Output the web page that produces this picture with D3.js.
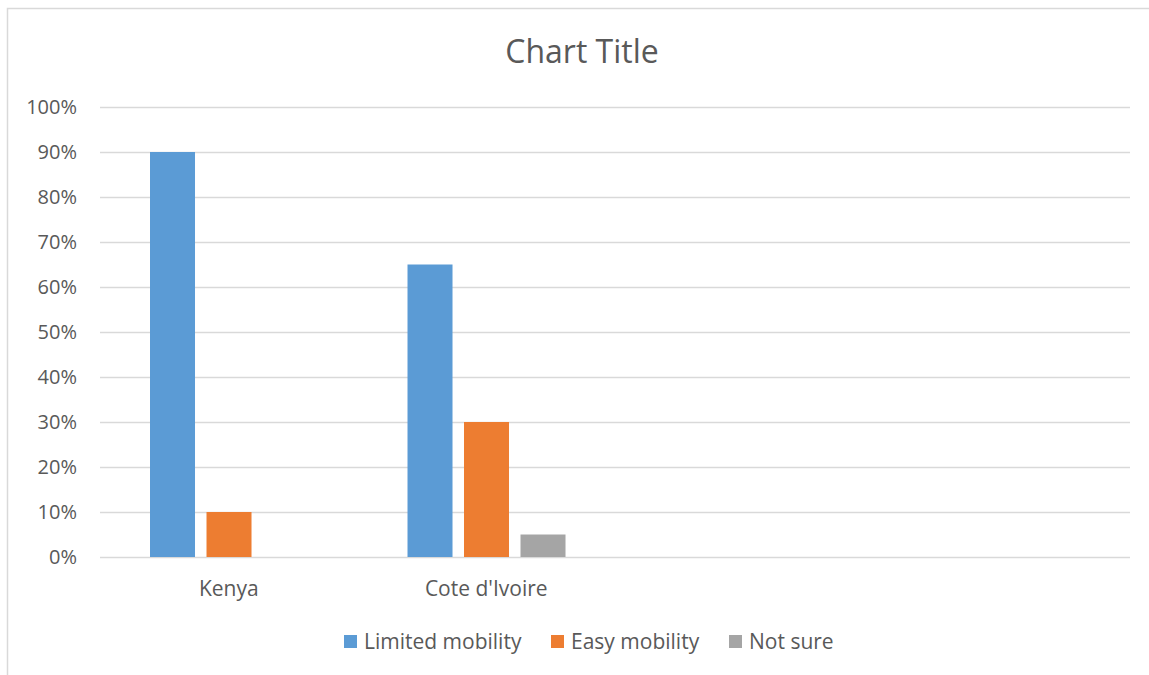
<!DOCTYPE html>
<html><head><meta charset="utf-8">
<script src="https://cdn.jsdelivr.net/npm/d3@7"></script>
<style>
body{margin:0;background:#fff;}
text{font-family:"Open Sans","Noto Sans",sans-serif;fill:#595959;}
</style></head>
<body><svg id="c" width="1149" height="675"></svg>
<script>
const categories = ["Kenya", "Cote d'Ivoire", "", ""];
const seriesNames = ["Limited mobility", "Easy mobility", "Not sure"];
const limitedMobility = [90, 65, null, null];
const easyMobility = [10, 30, null, null];
const notSure = [0, 5, null, null];
const yTicks = [0, 10, 20, 30, 40, 50, 60, 70, 80, 90, 100];
const colors = ["#5b9bd5", "#ed7d31", "#a5a5a5"];

const seriesValues = [limitedMobility, easyMobility, notSure];
const svg = d3.select("#c");

// chart border
svg.append("rect").attr("x", 7.5).attr("y", 8.5).attr("width", 1160).attr("height", 680)
  .attr("fill", "none").attr("stroke", "#d9d9d9").attr("stroke-width", 1.5);

const pLeft = 100, pRight = 1130, pTop = 107, pBottom = 557;
const x0 = d3.scaleBand().domain(d3.range(categories.length)).range([pLeft, pRight]).padding(0);
const bw = x0.bandwidth();
const x1 = d3.scaleBand().domain(seriesNames).range([bw * 0.1942, bw * 0.8078]).paddingInner(0.2035).paddingOuter(0);
const y = d3.scaleLinear().domain([0, 100]).range([pBottom, pTop]);

// gridlines
svg.append("g").selectAll("line").data(yTicks).join("line")
  .attr("x1", pLeft).attr("x2", pRight)
  .attr("y1", d => Math.round(y(d)) + 0.5).attr("y2", d => Math.round(y(d)) + 0.5)
  .attr("stroke", "#d9d9d9").attr("stroke-width", 1.3);

// y labels
svg.append("g").selectAll("text").data(yTicks).join("text")
  .attr("x", 77).attr("y", d => y(d)).attr("dy", "0.35em")
  .attr("text-anchor", "end").attr("font-size", 20).text(d => d + "%");

// bars
seriesNames.forEach((s, si) => {
  svg.append("g").selectAll("rect")
    .data(categories.map((c, i) => ({i, v: seriesValues[si][i]})).filter(d => d.v != null && d.v > 0))
    .join("rect")
    .attr("x", d => x0(d.i) + x1(s))
    .attr("width", x1.bandwidth())
    .attr("y", d => y(d.v))
    .attr("height", d => y(0) - y(d.v))
    .attr("fill", colors[si]);
});

// category labels
svg.append("g").selectAll("text").data(categories).join("text")
  .attr("x", (d, i) => x0(i) + bw / 2).attr("y", 589).attr("dy", "0.35em")
  .attr("text-anchor", "middle").attr("font-size", 21).text(d => d);

// title
svg.append("text").attr("x", 582).attr("y", 52).attr("dy", "0.35em")
  .attr("text-anchor", "middle").attr("font-size", 32).text("Chart Title");

// legend
const legendX = [344, 551, 729];
const lg = svg.append("g");
seriesNames.forEach((s, i) => {
  lg.append("rect").attr("x", legendX[i]).attr("y", 635).attr("width", 13).attr("height", 13).attr("fill", colors[i]);
  lg.append("text").attr("x", legendX[i] + 20).attr("y", 641.5).attr("dy", "0.35em")
    .attr("font-size", 21).text(s);
});
</script></body></html>
